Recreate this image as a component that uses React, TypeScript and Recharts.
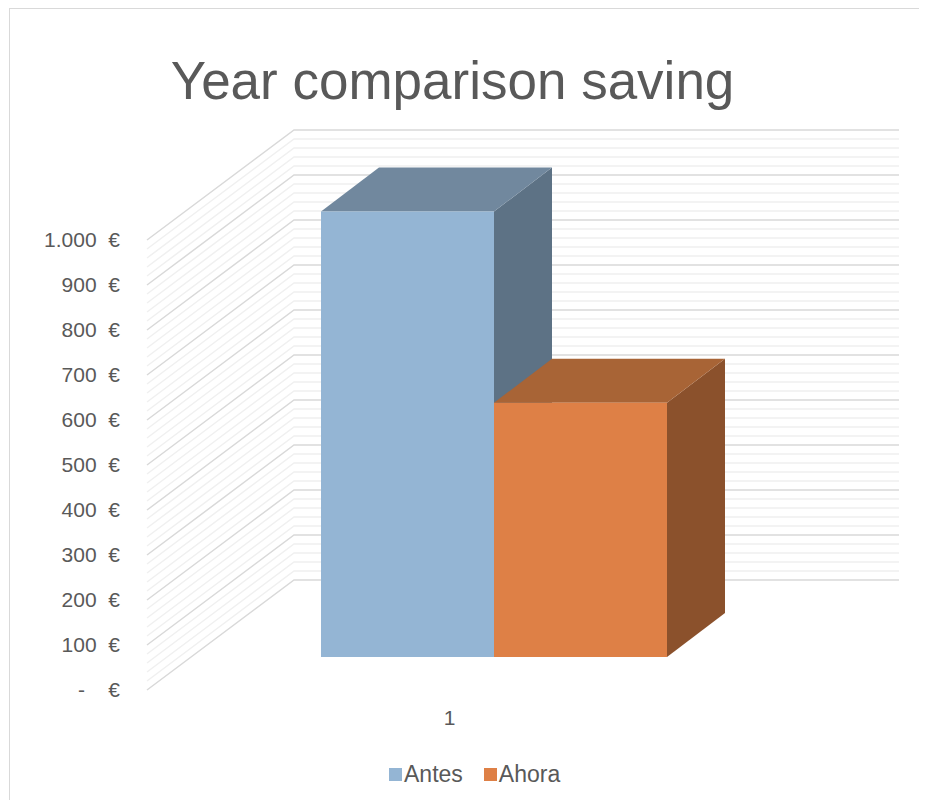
import { BarChart, Bar, XAxis, YAxis, CartesianGrid, Legend } from 'recharts';

const categories = ['1'];
const antesValues = [990];
const ahoraValues = [565];
const seriesNames = ['Antes', 'Ahora'];
const yTickValues = [0, 100, 200, 300, 400, 500, 600, 700, 800, 900, 1000];
const yTickLabels = [
  '-\u00a0\u00a0\u00a0\u00a0€', '100\u00a0\u00a0€', '200\u00a0\u00a0€', '300\u00a0\u00a0€', '400\u00a0\u00a0€', '500\u00a0\u00a0€',
  '600\u00a0\u00a0€', '700\u00a0\u00a0€', '800\u00a0\u00a0€', '900\u00a0\u00a0€', '1.000\u00a0\u00a0€',
];
const yDomain = [0, 1000];
const minorStep = 20;

const data = categories.map((name, i) => ({
  name,
  [seriesNames[0]]: antesValues[i],
  [seriesNames[1]]: ahoraValues[i],
}));

const FONT = '"Liberation Sans", Arial, sans-serif';
const TEXT = '#595959';

// oblique "3D" projection: back wall offset and bar placement in depth
const WALL_DX = 147;
const WALL_DY = -110;
const FRONT_DX = 44;
const FRONT_DY = -33;
const DEPTH_DX = 58;
const DEPTH_DY = -44;

const faces: Record<string, { front: string; top: string; side: string }> = {
  Antes: { front: '#94b5d4', top: '#71889e', side: '#5d7285' },
  Ahora: { front: '#de8046', top: '#a86436', side: '#8b512c' },
};

const makeBox = (c: { front: string; top: string; side: string }) => (props: any) => {
  const { x, y, width, height } = props;
  if (width == null || height == null) return null;
  const fx = x + FRONT_DX;
  const fy = y + FRONT_DY;
  const top = `${fx},${fy} ${fx + width},${fy} ${fx + width + DEPTH_DX},${fy + DEPTH_DY} ${fx + DEPTH_DX},${fy + DEPTH_DY}`;
  const side = `${fx + width},${fy} ${fx + width + DEPTH_DX},${fy + DEPTH_DY} ${fx + width + DEPTH_DX},${fy + DEPTH_DY + height} ${fx + width},${fy + height}`;
  return (
    <g>
      <polygon points={side} fill={c.side} />
      <polygon points={top} fill={c.top} />
      <rect x={fx} y={fy} width={width} height={height} fill={c.front} />
    </g>
  );
};

const gridLine = (props: any) => {
  const { x1, y1, x2, index } = props;
  const major = index % 5 === 0;
  const bx = x1 + WALL_DX;
  const by = y1 + WALL_DY;
  return (
    <polyline
      key={`g-${index}`}
      points={`${x1},${y1} ${bx},${by} ${x2 + WALL_DX},${by}`}
      fill="none"
      stroke={major ? '#d9d9d9' : '#f0f0f0'}
      strokeWidth={1.5}
    />
  );
};

const gridCoords = ({ yAxis, offset }: any) => {
  const s = yAxis && yAxis.scale;
  let f: (v: number) => number;
  if (typeof s === 'function') f = s;
  else if (s && typeof s.map === 'function') f = (v) => s.map(v);
  else f = (v) => offset.top + offset.height * (1 - (v - yDomain[0]) / (yDomain[1] - yDomain[0]));
  const pts: number[] = [];
  for (let v = yDomain[0]; v <= yDomain[1]; v += minorStep) pts.push(f(v));
  return pts;
};

const renderLegend = ({ payload }: any) => {
  const items = [...(payload || [])].sort(
    (a: any, b: any) => seriesNames.indexOf(a.value) - seriesNames.indexOf(b.value),
  );
  return (
    <div style={{ display: 'flex', alignItems: 'center', fontFamily: FONT, fontSize: 23, color: TEXT, whiteSpace: 'nowrap' }}>
      {items.map((p: any) => (
        <div key={p.value} style={{ display: 'flex', alignItems: 'center', marginRight: 21 }}>
          <span style={{ display: 'inline-block', width: 13, height: 13, background: p.color, marginRight: 2 }} />
          <span>{p.value}</span>
        </div>
      ))}
    </div>
  );
};

export default function App() {
  return (
    <div
      style={{
        position: 'relative',
        width: 910,
        height: 792,
        marginLeft: 1,
        boxSizing: 'border-box',
        borderTop: '1px solid #d9d9d9',
        borderLeft: '1px solid #d9d9d9',
        background: '#fff',
      }}
    >
      <div
        style={{
          position: 'absolute',
          left: 0,
          top: 45,
          width: 885,
          textAlign: 'center',
          fontFamily: FONT,
          fontSize: 53,
          lineHeight: 1,
          color: TEXT,
          zIndex: 1,
        }}
      >
        Year comparison saving
      </div>
      <BarChart
        width={909}
        height={791}
        data={data}
        margin={{ top: 231, right: 167, bottom: 70, left: 17 }}
        barGap={0}
        barCategoryGap={130}
      >
        <CartesianGrid
          vertical={false}
          horizontal={gridLine}
          syncWithTicks={false}
          horizontalCoordinatesGenerator={gridCoords}
        />
        <XAxis
          dataKey="name"
          axisLine={false}
          tickLine={false}
          height={40}
          tickMargin={14}
          tick={{ fill: TEXT, fontSize: 21, fontFamily: FONT }}
        />
        <YAxis
          type="number"
          domain={yDomain}
          ticks={yTickValues}
          interval={0}
          width={120}
          axisLine={false}
          tickLine={false}
          tickMargin={21}
          tick={{ fill: TEXT, fontSize: 21, fontFamily: FONT }}
          tickFormatter={(v: number) => yTickLabels[yTickValues.indexOf(v)]}
        />
        <Legend
          verticalAlign="middle"
          layout="horizontal"
          content={renderLegend}
          wrapperStyle={{ left: 379, top: 752, bottom: 'auto', width: 'auto', height: 'auto' }}
        />
        <Bar dataKey="Antes" fill={faces.Antes.front} shape={makeBox(faces.Antes)} isAnimationActive={false} legendType="square" />
        <Bar dataKey="Ahora" fill={faces.Ahora.front} shape={makeBox(faces.Ahora)} isAnimationActive={false} legendType="square" />
      </BarChart>
    </div>
  );
}
